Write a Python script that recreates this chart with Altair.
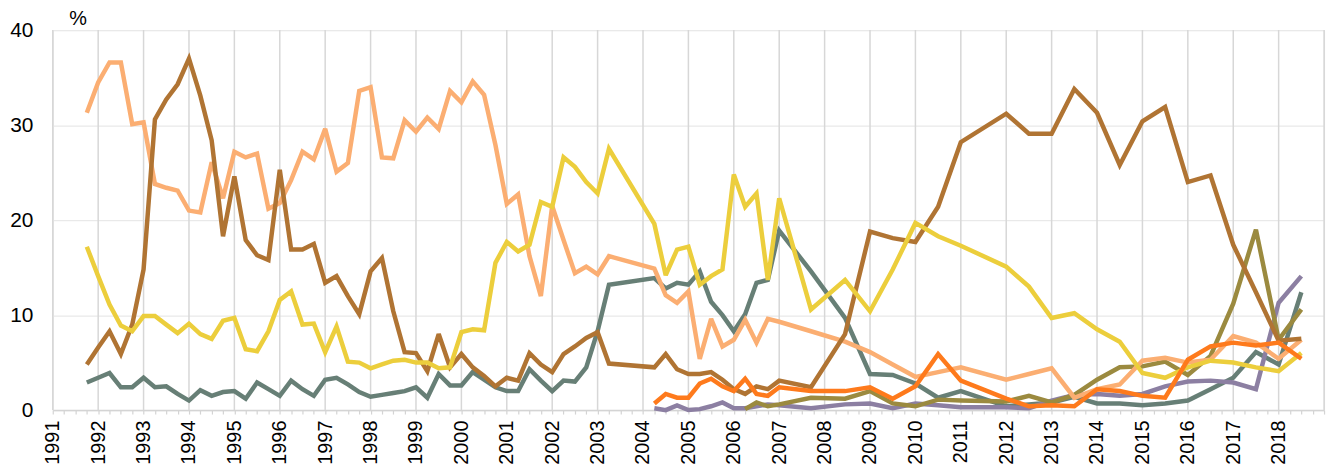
import altair as alt
import pandas as pd

# ---------------- time grids (decimal years) ----------------
T_EARLY = [1991.75 + 0.25 * i for i in range(47)]          # 1991.75 .. 2003.25
T_MID = [2004.25, 2004.5, 2004.75, 2005.0, 2005.25, 2005.5, 2005.75,
         2006.0, 2006.25, 2006.5, 2006.75, 2007.0]
T_LATE = [2007.7, 2008.45, 2009.0, 2009.5, 2010.0, 2010.5, 2011.0, 2012.0,
          2012.5, 2013.0, 2013.5, 2014.0, 2014.5, 2015.0, 2015.5, 2016.0,
          2016.5, 2017.0, 2017.5, 2018.0, 2018.5]

# ---------------- series values (%) ----------------
salmon_early = [31.3, 34.5, 36.6, 36.6, 30.1, 30.3, 23.8, 23.4, 23.1, 21.0, 20.8,
                26.1, 22.3, 27.2, 26.6, 27.0, 21.2, 21.8, 24.2, 27.2, 26.4, 29.6,
                25.1, 26.0, 33.6, 34.0, 26.6, 26.5, 30.5, 29.3, 30.8, 29.6, 33.6,
                32.4, 34.6, 33.2, 27.9, 21.7, 22.7, 16.2, 12.0, 21.5, 17.9, 14.4,
                15.1, 14.3, 16.2]
salmon_mid = [14.9, 12.1, 11.3, 12.5, 5.4, 9.6, 6.7, 7.4, 9.5, 7.1, 9.6, 9.3]
salmon_late = [8.3, 7.2, 6.1, 4.8, 3.5, 4.0, 4.5, 3.2, 3.8, 4.4, 1.3, 2.2, 2.7,
               5.2, 5.5, 5.0, 5.3, 7.8, 7.1, 5.4, 7.4]

brown_early = [4.8, 6.6, 8.3, 5.9, 9.0, 14.8, 30.6, 32.7, 34.3, 37.0, 33.1, 28.4,
               18.3, 24.6, 17.9, 16.3, 15.8, 25.3, 16.9, 16.9, 17.5, 13.4, 14.1,
               12.0, 10.1, 14.6, 16.0, 10.4, 6.1, 6.0, 4.1, 8.0, 4.5, 5.9, 4.5,
               3.6, 2.5, 3.4, 3.1, 6.0, 4.8, 4.0, 5.9, 6.7, 7.6, 8.2, 4.9]
brown_mid = [4.5, 5.9, 4.3, 3.8, 3.8, 4.0, 3.2, 2.2, 1.7, 2.5, 2.2, 3.1]
brown_late = [2.4, 8.0, 18.8, 18.1, 17.7, 21.4, 28.2, 31.2, 29.1, 29.1, 33.8,
              31.3, 25.8, 30.4, 31.9, 24.0, 24.7, 17.4, 12.4, 7.3, 7.5]

yellow_early = [17.2, 14.1, 11.1, 8.9, 8.3, 9.9, 9.9, 9.0, 8.1, 9.1, 8.0, 7.5,
                9.4, 9.7, 6.4, 6.2, 8.3, 11.6, 12.5, 9.0, 9.1, 6.1, 8.8, 5.1,
                5.0, 4.4, 4.8, 5.2, 5.3, 5.0, 5.0, 4.4, 4.5, 8.2, 8.5, 8.4,
                15.5, 17.7, 16.7, 17.4, 21.9, 21.4, 26.6, 25.6, 24.0, 22.8, 27.5]
yellow_mid = [19.6, 14.2, 16.9, 17.2, 13.2, 14.1, 14.8, 24.8, 21.4, 22.8, 13.7, 22.3]
yellow_late = [10.6, 13.7, 10.4, 14.8, 19.7, 18.3, 17.3, 15.1, 13.0, 9.7, 10.2,
               8.5, 7.2, 3.9, 3.4, 4.5, 5.2, 5.0, 4.5, 4.1, 6.0]

slate_early = [2.9, 3.4, 3.9, 2.4, 2.4, 3.4, 2.4, 2.5, 1.7, 1.0, 2.1, 1.5, 1.9,
               2.0, 1.2, 2.9, 2.2, 1.5, 3.1, 2.2, 1.5, 3.2, 3.4, 2.7, 1.9, 1.4,
               1.6, 1.8, 2.0, 2.4, 1.3, 3.8, 2.6, 2.6, 4.0, 3.2, 2.4, 2.0, 2.0,
               4.3, 3.1, 2.0, 3.1, 3.0, 4.5, 8.3, 13.2]
slate_mid = [13.9, 12.8, 13.4, 13.2, 14.6, 11.4, 10.0, 8.3, 10.1, 13.4, 13.7, 18.9]
slate_late = [14.6, 9.7, 3.8, 3.7, 2.8, 1.3, 2.0, 0.4, 0.6, 0.8, 1.4, 0.7, 0.7,
              0.5, 0.7, 1.0, 2.2, 3.4, 6.1, 4.8, 12.4]

olive_mid = [0.1, 0.8, 0.4, 0.6]                       # from 2006.25
olive_late = [1.3, 1.2, 2.0, 0.7, 0.4, 1.1, 1.0, 0.9, 1.5, 0.8, 1.6, 3.2, 4.5,
              4.6, 5.1, 3.7, 5.7, 11.2, 19.0, 7.4, 10.6]

orange_mid = [0.7, 1.7, 1.3, 1.3, 2.8, 3.3, 2.5, 2.0, 3.3, 1.7, 1.5, 2.4]
orange_late = [2.0, 2.0, 2.4, 1.2, 2.5, 5.9, 3.1, 1.2, 0.4, 0.5, 0.4, 2.2, 2.0,
               1.5, 1.3, 5.3, 6.7, 7.1, 6.8, 7.1, 5.4]

purple_mid = [0.2, 0.0, 0.5, 0.0, 0.1, 0.4, 0.8, 0.2, 0.2, 0.4, 0.6, 0.5]
purple_late = [0.2, 0.6, 0.7, 0.2, 0.7, 0.5, 0.3, 0.3, 0.2, 1.0, 1.6, 1.7, 1.5,
               1.7, 2.5, 3.0, 3.1, 2.9, 2.2, 11.3, 14.1]

YEARS = list(range(1991, 2020))
Y_TICKS = [0, 10, 20, 30, 40]

COLORS = {
    "slate": "#677f76",
    "purple": "#8c7fa2",
    "olive": "#9b8a3f",
    "salmon": "#fbae72",
    "brown": "#b07433",
    "yellow": "#ecce3c",
    "orange": "#fe7a1c",
}

series = {
    "slate": (T_EARLY + T_MID + T_LATE, slate_early + slate_mid + slate_late),
    "purple": (T_MID + T_LATE, purple_mid + purple_late),
    "olive": (T_MID[8:] + T_LATE, olive_mid + olive_late),
    "salmon": (T_EARLY + T_MID + T_LATE, salmon_early + salmon_mid + salmon_late),
    "brown": (T_EARLY + T_MID + T_LATE, brown_early + brown_mid + brown_late),
    "yellow": (T_EARLY + T_MID + T_LATE, yellow_early + yellow_mid + yellow_late),
    "orange": (T_MID + T_LATE, orange_mid + orange_late),
}

FONT = "Liberation Sans"
quarter_ticks = [1991 + 0.25 * i for i in range(4 * 28 + 1)]

x_scale = alt.Scale(domain=[1991, 2019], nice=False, zero=False)
y_scale = alt.Scale(domain=[0, 40], nice=False)

x_axis = alt.Axis(
    values=quarter_ticks,
    labelExpr="(datum.value % 1 === 0 && datum.value < 2019) ? format(datum.value, 'd') : ''",
    labelAngle=-90, labelAlign="right", labelBaseline="middle",
    labelPadding=6, labelFontSize=20, labelFont=FONT, labelColor="#000000",
    labelOverlap=False, labelFlush=False, labelBound=False,
    tickSize=4, tickColor="#d4d4d4", tickWidth=1.2,
    domainColor="#d4d4d4", domainWidth=1.5, grid=False, title=None,
)
y_axis = alt.Axis(
    values=Y_TICKS, grid=True, gridColor="#e9e9e9", gridWidth=1.2,
    domain=False, ticks=False, labelPadding=20, labelFontSize=21,
    labelFont=FONT, labelColor="#000000",
    title="%", titleAngle=0, titleAlign="left", titleBaseline="bottom",
    titleX=16, titleY=-2, titleFontSize=20, titleFontWeight="normal",
    titleFont=FONT, titleColor="#000000",
)

grid_df = pd.DataFrame({"t": YEARS, "v": [0] * len(YEARS)})
grid = alt.Chart(grid_df).mark_rule(color="#d7d7d7", strokeWidth=1.5).encode(
    x=alt.X("t:Q", scale=x_scale, axis=x_axis)
)

base_axes = alt.Chart(pd.DataFrame({"t": [1991] * len(Y_TICKS), "v": Y_TICKS})).mark_point(opacity=0).encode(
    x=alt.X("t:Q", scale=x_scale, axis=x_axis),
    y=alt.Y("v:Q", scale=y_scale, axis=y_axis),
)

layers = [grid, base_axes]
for name, (ts, vs) in series.items():
    df = pd.DataFrame({"t": ts, "v": vs})
    layers.append(
        alt.Chart(df).mark_line(color=COLORS[name], strokeWidth=4.5,
                                strokeJoin="miter", strokeMiterLimit=3).encode(
            x=alt.X("t:Q", scale=x_scale, axis=x_axis),
            y=alt.Y("v:Q", scale=y_scale, axis=y_axis),
        )
    )

chart = alt.layer(*layers).properties(
    width=1278, height=382,
    autosize=alt.AutoSizeParams(type="none"),
    padding={"left": 45, "top": 21, "right": 8, "bottom": 56},
).configure_view(stroke=None).configure(background="white")

chart.save("out.html", embed_options={"renderer": "svg", "actions": False})
